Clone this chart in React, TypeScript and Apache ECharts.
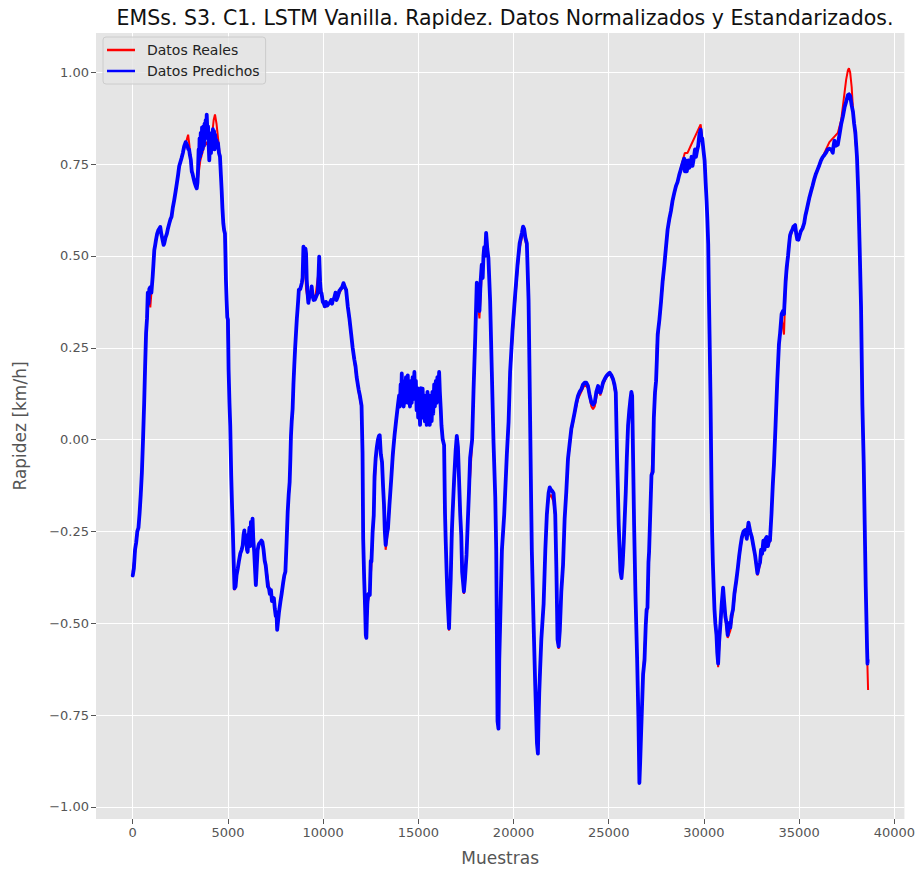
import React, { useEffect, useRef } from "react";
import * as echarts from "echarts";

const TITLE = "EMSs. S3. C1. LSTM Vanilla. Rapidez. Datos Normalizados y Estandarizados.";
const X_NAME = "Muestras";
const Y_NAME = "Rapidez [km/h]";
const SERIES_NAMES = ["Datos Reales", "Datos Predichos"];
const X_TICKS = [0, 5000, 10000, 15000, 20000, 25000, 30000, 35000, 40000];
const Y_TICKS = [-1, -0.75, -0.5, -0.25, 0, 0.25, 0.5, 0.75, 1];

const datosReales: [number, number][] = [
  [0,-0.36],[120,-0.31],[240,-0.26],[360,-0.21],[480,-0.1],[600,0.09],[700,0.28],[790,0.39],[860,0.38],[923,0.36],[980,0.4],[1045,0.44],[1132,0.51],[1219,0.54],[1341,0.57],[1446,0.578],[1568,0.545],[1655,0.535],[1794,0.56],[1916,0.588],[2038,0.607],[2178,0.652],[2317,0.7],[2439,0.74],[2561,0.765],[2700,0.79],[2800,0.81],[2909,0.83],[2980,0.8],[3049,0.76],[3136,0.725],[3258,0.698],[3362,0.684],[3450,0.72],[3550,0.76],[3700,0.79],[3850,0.81],[3950,0.8],[4050,0.79],[4150,0.82],[4250,0.87],[4320,0.885],[4400,0.86],[4480,0.82],[4581,0.77],[4669,0.68],[4756,0.59],[4843,0.56],[4895,0.44],[4965,0.34],[5034,0.19],[5121,0.04],[5172,-0.1],[5259,-0.25],[5345,-0.41],[5450,-0.37],[5580,-0.33],[5776,-0.29],[5862,-0.25],[6034,-0.3],[6207,-0.23],[6293,-0.22],[6379,-0.31],[6466,-0.39],[6560,-0.31],[6638,-0.28],[6810,-0.28],[6983,-0.34],[7155,-0.4],[7310,-0.43],[7414,-0.44],[7510,-0.48],[7586,-0.52],[7680,-0.47],[7758,-0.44],[7900,-0.39],[8017,-0.36],[8138,-0.2],[8241,-0.12],[8310,0.0],[8396,0.08],[8483,0.19],[8586,0.3],[8655,0.35],[8724,0.4],[8879,0.42],[8965,0.5],[9040,0.48],[9103,0.41],[9224,0.37],[9397,0.41],[9569,0.38],[9793,0.47],[9914,0.4],[10086,0.36],[10345,0.37],[10517,0.38],[10776,0.39],[11069,0.42],[11207,0.405],[11293,0.36],[11466,0.285],[11638,0.21],[11862,0.13],[12017,0.085],[12069,-0.04],[12103,-0.28],[12155,-0.39],[12241,-0.54],[12300,-0.49],[12380,-0.43],[12451,-0.42],[12538,-0.34],[12659,-0.21],[12760,-0.06],[12880,0.0],[12971,0.005],[13093,-0.07],[13197,-0.19],[13283,-0.3],[13405,-0.25],[13578,-0.11],[13751,0.01],[13925,0.09],[14100,0.13],[14300,0.12],[14500,0.13],[14800,0.14],[15000,0.09],[15200,0.1],[15400,0.08],[15600,0.08],[15800,0.11],[16000,0.14],[16100,0.16],[16214,0.04],[16353,-0.02],[16439,-0.28],[16526,-0.43],[16613,-0.52],[16700,-0.39],[16800,-0.21],[16959,-0.04],[17020,0.0],[17133,-0.11],[17254,-0.27],[17393,-0.42],[17531,-0.32],[17653,-0.16],[17826,-0.01],[17900,0.13],[17990,0.27],[18070,0.4],[18210,0.33],[18330,0.45],[18460,0.5],[18560,0.54],[18680,0.49],[18770,0.37],[18860,0.18],[18950,-0.02],[19040,-0.16],[19090,-0.31],[19120,-0.5],[19160,-0.76],[19210,-0.78],[19300,-0.5],[19390,-0.31],[19510,-0.21],[19650,-0.045],[19740,0.04],[19820,0.17],[19950,0.28],[20090,0.38],[20210,0.46],[20320,0.52],[20440,0.55],[20500,0.565],[20560,0.56],[20700,0.52],[20790,0.37],[20840,0.18],[20910,-0.11],[20960,-0.31],[21050,-0.5],[21140,-0.68],[21230,-0.83],[21280,-0.85],[21350,-0.7],[21460,-0.55],[21580,-0.45],[21670,-0.31],[21750,-0.21],[21840,-0.16],[21960,-0.15],[22100,-0.17],[22190,-0.21],[22250,-0.36],[22310,-0.55],[22370,-0.57],[22510,-0.42],[22600,-0.35],[22685,-0.22],[22860,-0.06],[23035,0.02],[23210,0.07],[23385,0.11],[23560,0.13],[23735,0.15],[23910,0.14],[24090,0.09],[24175,0.083],[24265,0.09],[24440,0.14],[24560,0.12],[24700,0.15],[24880,0.17],[25050,0.18],[25230,0.16],[25370,0.12],[25440,-0.06],[25525,-0.24],[25615,-0.36],[25670,-0.38],[25790,-0.28],[25895,-0.15],[26015,0.03],[26140,0.1],[26230,0.11],[26280,-0.06],[26333,-0.24],[26400,-0.42],[26490,-0.6],[26560,-0.77],[26610,-0.93],[26650,-0.88],[26700,-0.8],[26805,-0.64],[26945,-0.51],[27035,-0.46],[27120,-0.31],[27245,-0.1],[27370,0.05],[27430,0.12],[27486,0.16],[27530,0.26],[27573,0.27],[27660,0.32],[27746,0.37],[27919,0.47],[28093,0.57],[28266,0.62],[28440,0.67],[28613,0.7],[28786,0.74],[28994,0.78],[29133,0.78],[29307,0.8],[29566,0.829],[29827,0.858],[29913,0.82],[30035,0.76],[30139,0.65],[30225,0.53],[30295,0.28],[30347,0.1],[30399,-0.14],[30468,-0.34],[30555,-0.47],[30659,-0.54],[30746,-0.62],[30867,-0.51],[31006,-0.41],[31127,-0.49],[31248,-0.54],[31387,-0.52],[31526,-0.47],[31699,-0.39],[31855,-0.32],[31994,-0.27],[32167,-0.25],[32341,-0.23],[32514,-0.27],[32687,-0.32],[32809,-0.37],[32948,-0.34],[33121,-0.28],[33295,-0.27],[33468,-0.28],[33550,-0.2],[33676,-0.08],[33763,0.03],[33851,0.15],[33940,0.25],[34081,0.33],[34205,0.286],[34293,0.42],[34417,0.49],[34523,0.55],[34647,0.57],[34788,0.58],[34965,0.545],[35088,0.565],[35265,0.59],[35389,0.62],[35530,0.655],[35707,0.69],[35884,0.725],[36060,0.75],[36237,0.77],[36414,0.79],[36590,0.81],[36767,0.82],[36855,0.825],[37032,0.835],[37209,0.87],[37350,0.93],[37470,0.98],[37560,1.005],[37615,1.011],[37680,1.0],[37760,0.96],[37850,0.88],[37951,0.82],[38039,0.76],[38110,0.66],[38180,0.51],[38251,0.35],[38322,0.08],[38392,-0.08],[38445,-0.25],[38498,-0.41],[38569,-0.58],[38622,-0.682]
];

const datosPredichos: [number, number][] = [
  [0,-0.37],[60,-0.35],[120,-0.3],[180,-0.28],[240,-0.25],[300,-0.24],[360,-0.2],[420,-0.15],[480,-0.09],[540,0.0],[600,0.1],[650,0.2],[700,0.29],[750,0.33],[790,0.4],[830,0.37],[870,0.41],[923,0.415],[980,0.4],[1045,0.443],[1090,0.48],[1132,0.516],[1180,0.53],[1219,0.543],[1280,0.56],[1341,0.57],[1400,0.575],[1446,0.579],[1500,0.56],[1568,0.543],[1620,0.53],[1655,0.534],[1720,0.55],[1794,0.561],[1850,0.575],[1916,0.588],[1980,0.6],[2038,0.607],[2100,0.63],[2178,0.652],[2250,0.675],[2317,0.698],[2380,0.72],[2439,0.744],[2500,0.755],[2561,0.766],[2630,0.78],[2700,0.798],[2780,0.81],[2874,0.8],[2920,0.79],[2961,0.79],[3000,0.775],[3049,0.762],[3100,0.73],[3136,0.725],[3200,0.71],[3258,0.698],[3310,0.69],[3362,0.684],[3400,0.7],[3432,0.74],[3460,0.79],[3484,0.76],[3510,0.82],[3540,0.77],[3571,0.835],[3600,0.78],[3640,0.85],[3670,0.79],[3711,0.853],[3740,0.8],[3770,0.86],[3798,0.82],[3830,0.87],[3860,0.83],[3885,0.885],[3920,0.84],[3955,0.853],[3990,0.8],[4020,0.76],[4042,0.789],[4080,0.82],[4110,0.78],[4146,0.835],[4180,0.8],[4210,0.845],[4233,0.81],[4270,0.84],[4300,0.79],[4330,0.83],[4355,0.8],[4400,0.815],[4440,0.8],[4477,0.807],[4530,0.78],[4581,0.771],[4630,0.72],[4669,0.68],[4710,0.63],[4756,0.589],[4800,0.57],[4843,0.561],[4870,0.5],[4895,0.434],[4930,0.38],[4965,0.333],[5000,0.327],[5034,0.191],[5080,0.1],[5121,0.037],[5172,-0.098],[5215,-0.18],[5259,-0.252],[5300,-0.33],[5345,-0.405],[5400,-0.4],[5450,-0.37],[5517,-0.351],[5580,-0.33],[5650,-0.31],[5720,-0.3],[5776,-0.288],[5820,-0.26],[5862,-0.247],[5900,-0.28],[5950,-0.26],[6000,-0.3],[6034,-0.306],[6080,-0.27],[6130,-0.24],[6170,-0.29],[6207,-0.224],[6250,-0.26],[6293,-0.215],[6330,-0.27],[6379,-0.306],[6420,-0.35],[6466,-0.396],[6520,-0.34],[6560,-0.3],[6600,-0.29],[6638,-0.283],[6700,-0.28],[6760,-0.275],[6810,-0.279],[6870,-0.3],[6930,-0.33],[6983,-0.342],[7040,-0.37],[7100,-0.4],[7155,-0.405],[7200,-0.42],[7260,-0.41],[7310,-0.44],[7360,-0.43],[7414,-0.432],[7460,-0.46],[7510,-0.48],[7550,-0.47],[7586,-0.518],[7620,-0.5],[7680,-0.47],[7758,-0.441],[7820,-0.42],[7900,-0.39],[7960,-0.37],[8017,-0.36],[8080,-0.28],[8138,-0.197],[8190,-0.15],[8241,-0.116],[8280,-0.05],[8310,0.01],[8350,0.05],[8396,0.083],[8440,0.15],[8483,0.2],[8530,0.25],[8586,0.3],[8620,0.33],[8655,0.354],[8690,0.38],[8724,0.408],[8800,0.41],[8879,0.426],[8920,0.44],[8965,0.525],[9000,0.52],[9040,0.49],[9070,0.52],[9103,0.507],[9138,0.435],[9180,0.4],[9224,0.372],[9300,0.4],[9350,0.39],[9397,0.417],[9450,0.39],[9500,0.38],[9569,0.381],[9640,0.39],[9720,0.4],[9760,0.45],[9793,0.498],[9840,0.43],[9880,0.4],[9914,0.399],[9980,0.375],[10040,0.37],[10086,0.363],[10150,0.375],[10220,0.365],[10280,0.37],[10345,0.372],[10420,0.38],[10470,0.37],[10517,0.381],[10580,0.385],[10650,0.4],[10700,0.38],[10776,0.39],[10850,0.405],[10920,0.41],[11000,0.415],[11069,0.426],[11140,0.415],[11207,0.408],[11293,0.363],[11380,0.33],[11466,0.29],[11550,0.25],[11638,0.218],[11700,0.2],[11760,0.17],[11862,0.137],[11930,0.12],[12017,0.092],[12069,-0.035],[12103,-0.27],[12155,-0.378],[12200,-0.45],[12241,-0.532],[12270,-0.54],[12300,-0.48],[12328,-0.441],[12380,-0.42],[12451,-0.423],[12500,-0.33],[12538,-0.332],[12600,-0.25],[12659,-0.206],[12700,-0.1],[12760,-0.05],[12820,-0.02],[12880,0.0],[12930,0.01],[12971,0.012],[13030,-0.04],[13093,-0.061],[13150,-0.13],[13197,-0.178],[13240,-0.25],[13283,-0.287],[13340,-0.26],[13405,-0.242],[13480,-0.18],[13578,-0.106],[13660,-0.04],[13751,0.012],[13830,0.05],[13925,0.093],[13990,0.12],[14030,0.09],[14070,0.15],[14098,0.1],[14130,0.18],[14150,0.12],[14190,0.16],[14230,0.09],[14272,0.14],[14310,0.1],[14350,0.17],[14390,0.11],[14445,0.175],[14480,0.1],[14520,0.15],[14560,0.09],[14619,0.16],[14650,0.1],[14700,0.17],[14740,0.11],[14792,0.184],[14830,0.12],[14870,0.16],[14910,0.08],[14950,0.14],[14990,0.06],[15052,0.1],[15090,0.04],[15130,0.14],[15170,0.07],[15225,0.139],[15260,0.06],[15300,0.12],[15340,0.05],[15399,0.11],[15440,0.04],[15480,0.13],[15520,0.05],[15560,0.12],[15600,0.04],[15659,0.1],[15700,0.05],[15740,0.13],[15780,0.07],[15832,0.15],[15870,0.09],[15920,0.16],[15960,0.1],[16000,0.17],[16040,0.12],[16092,0.184],[16130,0.13],[16180,0.08],[16214,0.039],[16280,0.0],[16353,-0.015],[16400,-0.2],[16439,-0.278],[16480,-0.35],[16526,-0.423],[16570,-0.47],[16613,-0.514],[16650,-0.45],[16700,-0.38],[16760,-0.25],[16800,-0.2],[16880,-0.107],[16959,-0.03],[17020,0.01],[17080,-0.02],[17133,-0.1],[17200,-0.204],[17254,-0.26],[17300,-0.36],[17393,-0.414],[17450,-0.38],[17531,-0.314],[17600,-0.22],[17653,-0.151],[17720,-0.05],[17826,0.0],[17900,0.136],[17990,0.281],[18070,0.427],[18130,0.38],[18210,0.35],[18270,0.43],[18330,0.476],[18380,0.44],[18420,0.5],[18460,0.524],[18510,0.5],[18560,0.563],[18620,0.52],[18680,0.495],[18770,0.379],[18860,0.184],[18950,-0.01],[19040,-0.156],[19090,-0.3],[19120,-0.495],[19160,-0.767],[19210,-0.787],[19250,-0.6],[19300,-0.495],[19390,-0.3],[19510,-0.204],[19650,-0.039],[19740,0.048],[19820,0.184],[19950,0.3],[20090,0.398],[20210,0.476],[20320,0.534],[20440,0.563],[20500,0.58],[20560,0.573],[20620,0.55],[20700,0.534],[20790,0.379],[20840,0.184],[20910,-0.107],[20960,-0.3],[21050,-0.495],[21140,-0.67],[21230,-0.826],[21280,-0.855],[21320,-0.75],[21350,-0.69],[21400,-0.62],[21460,-0.544],[21580,-0.447],[21670,-0.3],[21750,-0.204],[21840,-0.146],[21900,-0.13],[21960,-0.136],[22030,-0.14],[22100,-0.146],[22190,-0.204],[22250,-0.35],[22310,-0.544],[22370,-0.563],[22430,-0.52],[22510,-0.413],[22600,-0.341],[22685,-0.215],[22770,-0.143],[22860,-0.052],[22950,-0.01],[23035,0.029],[23120,0.05],[23210,0.074],[23300,0.1],[23385,0.119],[23470,0.13],[23560,0.137],[23650,0.15],[23735,0.155],[23820,0.155],[23910,0.146],[24000,0.12],[24090,0.101],[24180,0.095],[24265,0.101],[24350,0.13],[24440,0.146],[24500,0.13],[24560,0.128],[24630,0.14],[24700,0.155],[24790,0.165],[24880,0.173],[24960,0.178],[25050,0.182],[25140,0.175],[25230,0.164],[25300,0.15],[25370,0.128],[25440,-0.052],[25525,-0.233],[25615,-0.359],[25670,-0.377],[25730,-0.34],[25790,-0.278],[25895,-0.143],[25950,-0.05],[26015,0.038],[26080,0.08],[26140,0.11],[26190,0.13],[26230,0.119],[26280,-0.052],[26333,-0.233],[26400,-0.413],[26490,-0.594],[26560,-0.76],[26610,-0.935],[26650,-0.88],[26700,-0.8],[26805,-0.639],[26880,-0.6],[26945,-0.504],[26990,-0.463],[27035,-0.458],[27087,-0.334],[27120,-0.305],[27190,-0.187],[27245,-0.097],[27312,-0.088],[27370,0.06],[27430,0.128],[27486,0.159],[27530,0.22],[27573,0.287],[27660,0.326],[27746,0.375],[27830,0.43],[27919,0.474],[28000,0.52],[28093,0.572],[28180,0.6],[28266,0.622],[28350,0.65],[28440,0.671],[28530,0.69],[28613,0.701],[28700,0.72],[28786,0.735],[28870,0.75],[28960,0.765],[29000,0.73],[29050,0.76],[29100,0.73],[29133,0.74],[29180,0.76],[29230,0.74],[29307,0.75],[29350,0.77],[29400,0.745],[29480,0.77],[29530,0.79],[29580,0.77],[29653,0.79],[29700,0.8],[29760,0.83],[29827,0.844],[29870,0.82],[29913,0.82],[29970,0.79],[30035,0.76],[30090,0.7],[30139,0.651],[30180,0.6],[30225,0.533],[30260,0.4],[30295,0.287],[30347,0.11],[30399,-0.137],[30430,-0.25],[30468,-0.334],[30510,-0.4],[30555,-0.463],[30600,-0.5],[30659,-0.532],[30700,-0.58],[30746,-0.61],[30800,-0.55],[30867,-0.502],[30930,-0.45],[31006,-0.403],[31060,-0.44],[31127,-0.482],[31190,-0.5],[31248,-0.532],[31300,-0.5],[31387,-0.512],[31450,-0.48],[31526,-0.463],[31600,-0.42],[31699,-0.384],[31780,-0.35],[31855,-0.315],[31920,-0.29],[31994,-0.265],[32080,-0.25],[32167,-0.246],[32250,-0.27],[32341,-0.226],[32430,-0.25],[32514,-0.265],[32600,-0.29],[32687,-0.315],[32750,-0.34],[32809,-0.364],[32880,-0.345],[32948,-0.334],[33000,-0.3],[33056,-0.311],[33121,-0.275],[33180,-0.3],[33240,-0.27],[33295,-0.265],[33360,-0.29],[33410,-0.277],[33468,-0.275],[33550,-0.2],[33620,-0.12],[33676,-0.07],[33763,0.04],[33851,0.16],[33940,0.26],[34000,0.29],[34081,0.342],[34150,0.35],[34205,0.342],[34250,0.39],[34293,0.432],[34350,0.47],[34417,0.5],[34470,0.53],[34523,0.556],[34580,0.565],[34647,0.572],[34700,0.58],[34788,0.584],[34850,0.56],[34900,0.545],[34965,0.544],[35020,0.555],[35088,0.567],[35180,0.575],[35265,0.589],[35330,0.61],[35389,0.623],[35460,0.64],[35530,0.657],[35620,0.675],[35707,0.691],[35800,0.71],[35884,0.724],[35970,0.735],[36060,0.747],[36150,0.76],[36237,0.769],[36330,0.775],[36414,0.781],[36500,0.79],[36590,0.792],[36680,0.79],[36767,0.781],[36810,0.8],[36855,0.814],[36940,0.8],[37032,0.803],[37120,0.83],[37209,0.859],[37300,0.88],[37385,0.904],[37470,0.92],[37562,0.938],[37620,0.94],[37686,0.935],[37760,0.91],[37827,0.893],[37890,0.86],[37951,0.837],[38000,0.8],[38039,0.769],[38110,0.668],[38180,0.522],[38251,0.364],[38322,0.094],[38392,-0.063],[38445,-0.232],[38498,-0.4],[38540,-0.5],[38569,-0.57],[38590,-0.61],[38600,-0.6]
];

const FONT = "DejaVu Sans";

export default function App() {
  const ref = useRef<HTMLDivElement>(null);
  useEffect(() => {
    if (!ref.current) return;
    const chart = echarts.init(ref.current, null, { renderer: "svg" });
    const fmtY = (v: number) => (v < 0 ? "\u2212" : "") + Math.abs(v).toFixed(2);
    const fmtX = (v: number) => String(Math.round(v));
    chart.setOption({
      animation: false,
      backgroundColor: "#ffffff",
      textStyle: { fontFamily: FONT },
      title: {
        text: TITLE,
        left: 500,
        top: 2,
        textAlign: "center",
        textStyle: { fontFamily: FONT, fontSize: 20.5, fontWeight: "normal", color: "#111111" },
      },
      legend: {
        orient: "vertical",
        left: 103,
        top: 37,
        data: SERIES_NAMES,
        icon: "rect",
        itemWidth: 28,
        itemHeight: 2.5,
        itemGap: 7,
        padding: [6, 6, 6, 4],
        backgroundColor: "rgba(229,229,229,0.8)",
        borderColor: "#cccccc",
        borderWidth: 1,
        borderRadius: 3,
        textStyle: { fontFamily: FONT, fontSize: 14, color: "#222222", padding: [0, 0, 0, 7] },
      },
      grid: {
        left: 96,
        right: 13,
        top: 33,
        bottom: 49,
        show: true,
        backgroundColor: "#E5E5E5",
        borderWidth: 0,
      },
      xAxis: {
        type: "value",
        min: -1930,
        max: 40530,
        name: X_NAME,
        nameLocation: "middle",
        nameGap: 30,
        nameTextStyle: { fontFamily: FONT, fontSize: 17, color: "#555555" },
        axisLine: { show: false, onZero: false },
        axisTick: { show: true, length: 5, customValues: X_TICKS, lineStyle: { color: "#555555" } },
        axisLabel: { customValues: X_TICKS, color: "#555555", fontSize: 13, fontFamily: FONT, margin: 7, formatter: fmtX },
        splitLine: { show: true, lineStyle: { color: "#ffffff", width: 1 } },
      },
      yAxis: {
        type: "value",
        min: -1.033,
        max: 1.107,
        name: Y_NAME,
        nameLocation: "middle",
        nameGap: 68,
        nameTextStyle: { fontFamily: FONT, fontSize: 17, color: "#555555" },
        axisLine: { show: false, onZero: false },
        axisTick: { show: true, length: 5, customValues: Y_TICKS, lineStyle: { color: "#555555" } },
        axisLabel: { customValues: Y_TICKS, color: "#555555", fontSize: 13, fontFamily: FONT, margin: 7, formatter: fmtY },
        splitLine: { show: true, lineStyle: { color: "#ffffff", width: 1 } },
      },
      series: [
        {
          name: SERIES_NAMES[0],
          type: "line",
          data: datosReales,
          showSymbol: false,
          symbol: "none",
          color: "#ff0000",
          lineStyle: { color: "#ff0000", width: 2 },
          z: 2,
        },
        {
          name: SERIES_NAMES[1],
          type: "line",
          data: datosPredichos,
          showSymbol: false,
          symbol: "none",
          color: "#0000ff",
          lineStyle: { color: "#0000ff", width: 3.8, join: "round", cap: "round" },
          z: 3,
        },
      ],
    });
    return () => chart.dispose();
  }, []);
  return <div ref={ref} style={{ position: "absolute", left: 0, top: 0, width: 918, height: 871 }} />;
}
